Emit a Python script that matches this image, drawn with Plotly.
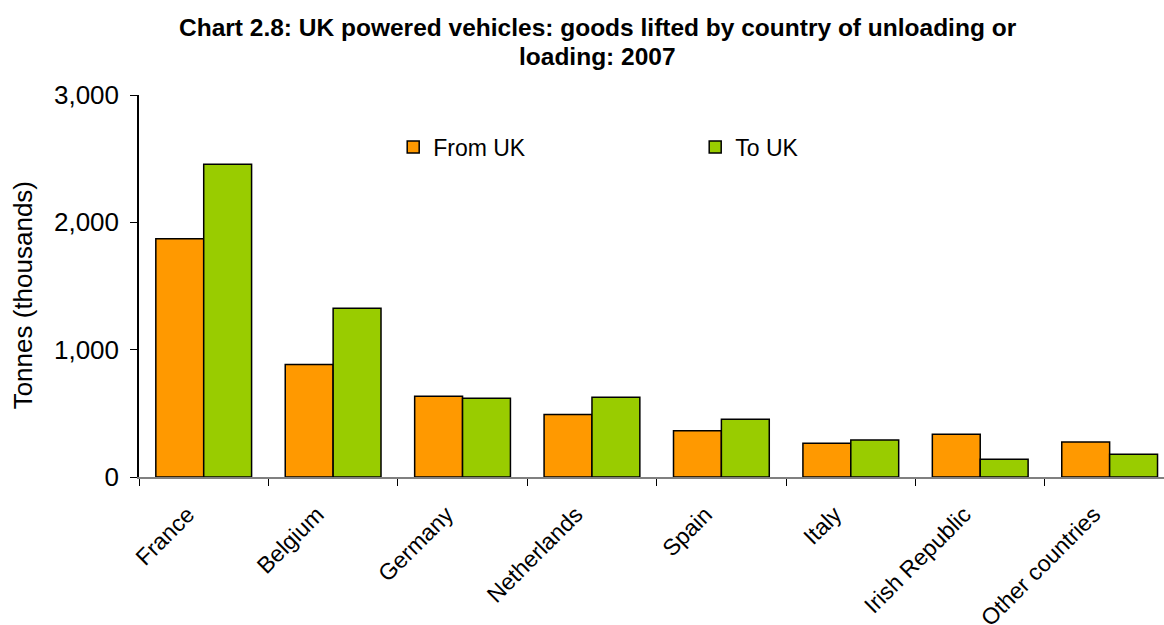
import plotly.graph_objects as go

categories = ["France", "Belgium", "Germany", "Netherlands", "Spain", "Italy", "Irish Republic", "Other countries"]
from_uk = [1872, 883, 634, 490, 364, 265, 335, 275]
to_uk = [2456, 1325, 618, 626, 453, 291, 139, 178]
y_ticks = [0, 1000, 2000, 3000]
y_tick_labels = ["0", "1,000", "2,000", "3,000"]
title_lines = ["Chart 2.8: UK powered vehicles: goods lifted by country of unloading or", "loading: 2007"]
y_title = "Tonnes (thousands)"

FONT = "Liberation Sans, Arial, sans-serif"

fig = go.Figure()
fig.add_trace(go.Bar(name="From UK", x=categories, y=from_uk,
                     marker=dict(color="#FF9900", line=dict(color="#000000", width=1.5))))
fig.add_trace(go.Bar(name="To UK", x=categories, y=to_uk,
                     marker=dict(color="#99CC00", line=dict(color="#000000", width=1.5))))

fig.update_layout(
    width=1164, height=625,
    margin=dict(l=139, r=0, t=95, b=148, autoexpand=False),
    paper_bgcolor="white", plot_bgcolor="white",
    barmode="group", bargap=0.26, bargroupgap=0,
    font=dict(family=FONT, color="#000000", size=23),
    legend=dict(orientation="h", x=0.248, xanchor="left", y=0.864, yanchor="middle",
                font=dict(family=FONT, size=23), entrywidth=257, entrywidthmode="pixels",
                bgcolor="rgba(0,0,0,0)"),
    showlegend=True,
)
for text, yv in zip(title_lines, [1.176, 1.100]):
    fig.add_annotation(text="<b>" + text + "</b>", xref="paper", yref="paper", x=0.4478, y=yv,
                       xanchor="center", yanchor="middle", showarrow=False,
                       font=dict(family=FONT, size=24.5, color="#000000"))
fig.add_annotation(text=y_title, xref="paper", yref="paper", x=-0.113, y=0.476, textangle=-90,
                   xanchor="center", yanchor="middle", showarrow=False,
                   font=dict(family=FONT, size=26, color="#000000"))
fig.update_xaxes(type="category", range=[-0.5, 7.42], tickangle=-45, automargin=False,
                 showline=True, linecolor="#808080", linewidth=2,
                 ticks="outside", tickson="boundaries", ticklen=7, tickcolor="#000000",
                 tickfont=dict(family=FONT, size=23), showgrid=False,
                 ticklabelstandoff=13, ticklabelshift=-16)
fig.update_yaxes(range=[0, 3000], tickvals=y_ticks, ticktext=y_tick_labels, automargin=False,
                 showline=True, linecolor="#000000", linewidth=1.5,
                 ticks="outside", ticklen=7, tickcolor="#000000", ticklabelstandoff=6,
                 tickfont=dict(family=FONT, size=26), showgrid=False, zeroline=False)

fig.write_html("out.html")
